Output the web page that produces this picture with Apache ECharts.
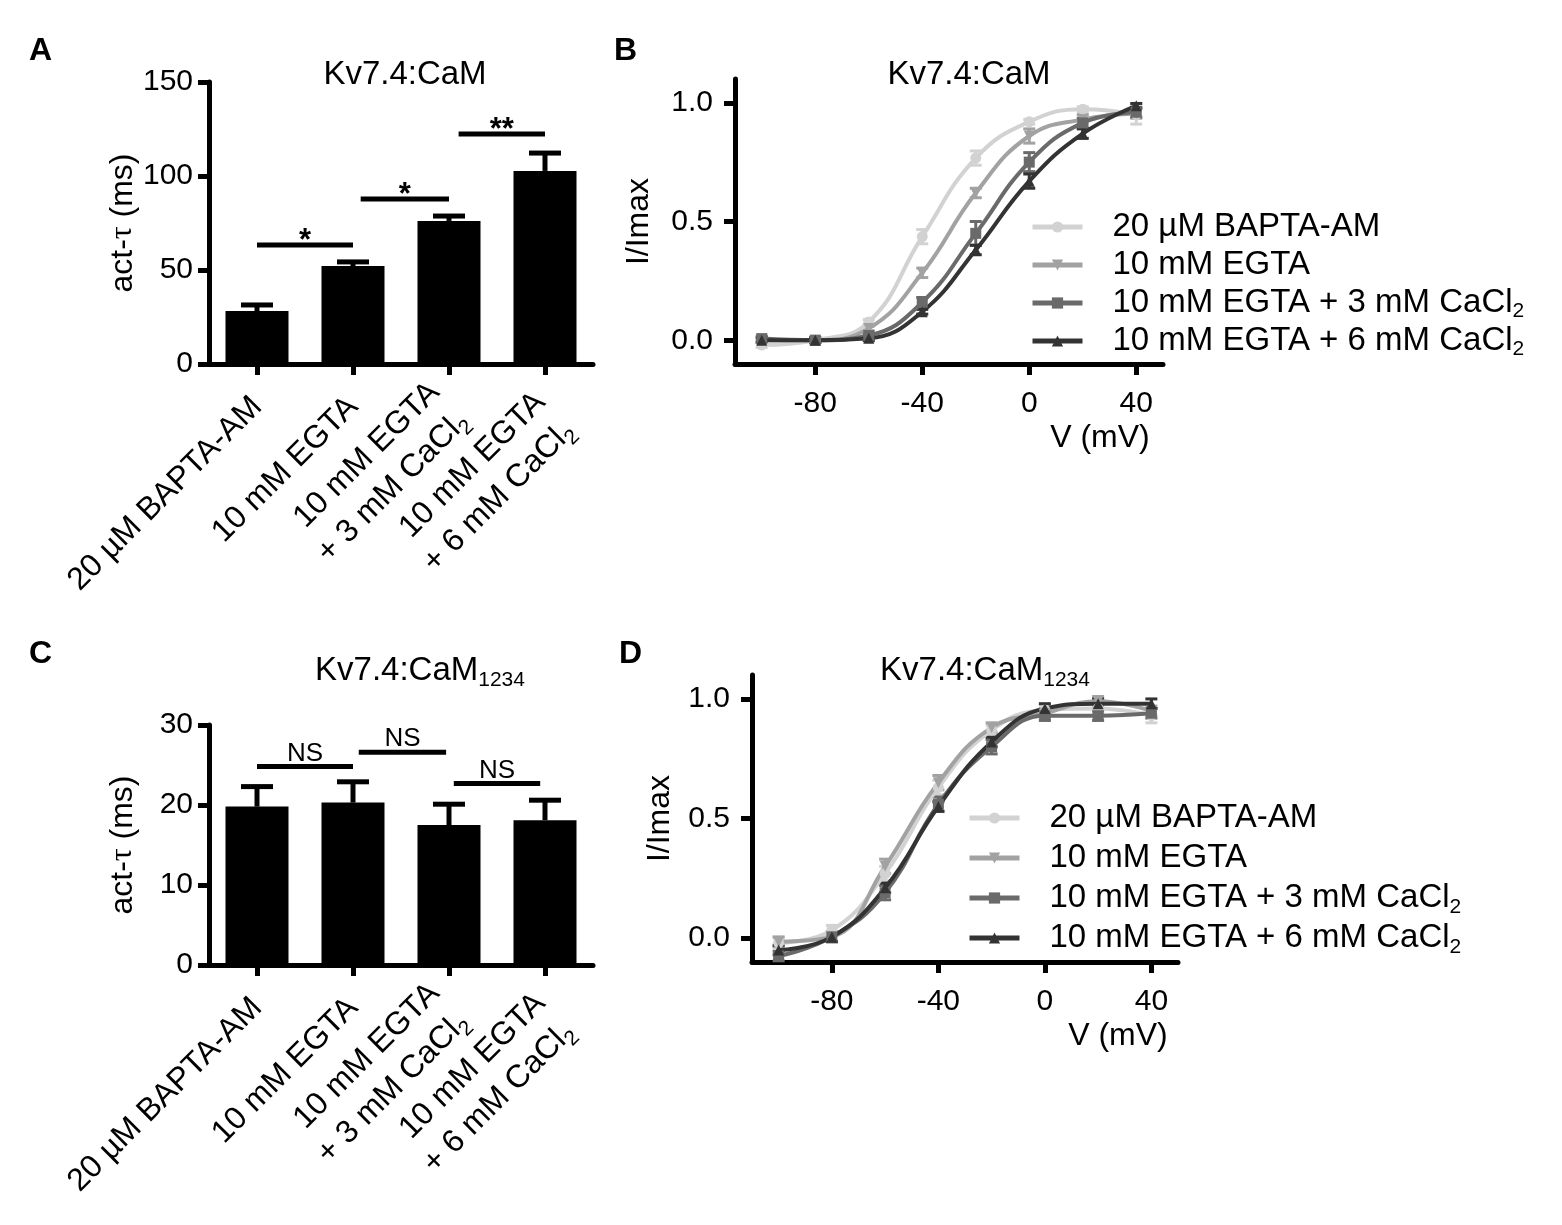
<!DOCTYPE html>
<html lang="en">
<head>
<meta charset="UTF-8">
<title>Kv7.4 activation</title>
<script src="https://cdn.jsdelivr.net/npm/echarts@6.0.0/dist/echarts.min.js"></script>
<style>
  html, body { margin: 0; padding: 0; background: #fff; }
  #main { width: 1562px; height: 1225px; }
</style>
</head>
<body>
<div id="main"></div>
<script>
// bar panels (A, C)
var groups = ['20 µM BAPTA-AM', '10 mM EGTA', '10 mM EGTA\n+ 3 mM CaCl2', '10 mM EGTA\n+ 6 mM CaCl2'];
var tauCaM = [28.2, 52.1, 76.1, 102.7];
var tauCaMErr = [3.2, 2.2, 2.6, 9.5];
var tauCaM1234 = [19.8, 20.3, 17.5, 18.1];
var tauCaM1234Err = [2.5, 2.6, 2.6, 2.5];
// significance bars: [from, to, y]
var sigCaM = [[0, 1, 63.3], [1.08, 2, 87.8], [2.1, 3, 122.3]];
var sigCaMText = ['*', '*', '**'];
var sigCaM1234 = [[0, 1, 24.8], [1.06, 1.97, 26.6], [2.05, 2.95, 22.7]];
var sigCaM1234Text = ['NS', 'NS', 'NS'];

// G-V panels (B, D)
var volts = [-100, -80, -60, -40, -20, 0, 20, 40];
var names = ['20 µM BAPTA-AM', '10 mM EGTA', '10 mM EGTA + 3 mM CaCl2', '10 mM EGTA + 6 mM CaCl2'];
var colors = ['#d2d2d2', '#a2a2a2', '#6a6a6a', '#333333'];
var symbols = ['circle', 'triangle', 'rect', 'triangle'];
var symbolRot = [0, 180, 0, 0];

var gvCaM = [
  [-0.02, 0.0, 0.077, 0.436, 0.767, 0.92, 0.973, 0.95],
  [0.0, 0.0, 0.05, 0.284, 0.62, 0.86, 0.93, 0.955],
  [0.007, 0.0, 0.02, 0.16, 0.45, 0.75, 0.915, 0.96],
  [0.0, 0.0, 0.008, 0.12, 0.38, 0.67, 0.87, 0.987]
];
var gvCaMErr = [
  [0.01, 0.01, 0.01, 0.03, 0.03, 0.01, 0.01, 0.04],
  [0.01, 0.01, 0.01, 0.02, 0.02, 0.03, 0.02, 0.02],
  [0.01, 0.01, 0.01, 0.02, 0.05, 0.04, 0.02, 0.02],
  [0.01, 0.01, 0.01, 0.01, 0.02, 0.03, 0.02, 0.01]
];
var gvCaM1234 = [
  [-0.02, 0.033, 0.27, 0.63, 0.87, 0.954, 0.96, 0.93],
  [-0.015, 0.005, 0.3, 0.65, 0.88, 0.94, 0.99, 0.95],
  [-0.075, 0.005, 0.19, 0.56, 0.80, 0.93, 0.93, 0.94],
  [-0.05, 0.005, 0.21, 0.55, 0.82, 0.96, 0.98, 0.98]
];
var gvCaM1234Err = [
  [0.02, 0.02, 0.03, 0.03, 0.02, 0.02, 0.02, 0.03],
  [0.02, 0.02, 0.03, 0.03, 0.02, 0.02, 0.02, 0.02],
  [0.02, 0.02, 0.03, 0.03, 0.03, 0.02, 0.02, 0.02],
  [0.02, 0.02, 0.02, 0.02, 0.02, 0.02, 0.02, 0.02]
];

var FONT = 'Liberation Sans, Arial, sans-serif';
var sub = { fontSize: 21, fontFamily: FONT, verticalAlign: 'bottom', lineHeight: 20, color: '#000' };
var catSub = { fontSize: 21, fontFamily: FONT, verticalAlign: 'bottom', lineHeight: 18, color: '#000' };

function withSub(s) {
  return s.replace('CaCl2', 'CaCl{sub|2}');
}

function barErr(xi, yi, vals, errs) {
  return {
    type: 'custom', xAxisIndex: xi, yAxisIndex: yi, z: 5,
    data: vals.map(function (v, i) { return [i, v, errs[i]]; }),
    renderItem: function (params, api) {
      var p0 = api.coord([api.value(0), api.value(1)]);
      var p1 = api.coord([api.value(0), api.value(1) + api.value(2)]);
      return {
        type: 'group',
        children: [
          { type: 'line', shape: { x1: p0[0], y1: p0[1], x2: p1[0], y2: p1[1] }, style: { stroke: '#000', lineWidth: 5 } },
          { type: 'line', shape: { x1: p1[0] - 16, y1: p1[1], x2: p1[0] + 16, y2: p1[1] }, style: { stroke: '#000', lineWidth: 5 } }
        ]
      };
    }
  };
}

function sigBars(xi, yi, rows, texts) {
  return {
    type: 'custom', xAxisIndex: xi, yAxisIndex: yi, z: 5,
    data: rows,
    renderItem: function (params, api) {
      var band = api.size([1, 0])[0];
      function px(v) {
        var f = Math.floor(v);
        return api.coord([f, 0])[0] + (v - f) * band;
      }
      var x1 = px(api.value(0)), x2 = px(api.value(1));
      var y = api.coord([0, api.value(2)])[1];
      var t = texts[params.dataIndex];
      var star = t.indexOf('*') >= 0;
      return {
        type: 'group',
        children: [
          { type: 'line', shape: { x1: x1, y1: y, x2: x2, y2: y }, style: { stroke: '#000', lineWidth: 5 } },
          {
            type: 'text',
            style: {
              text: t, x: (x1 + x2) / 2, y: star ? y + 12 : y,
              fill: '#000', align: 'center', verticalAlign: 'bottom',
              font: star ? 'bold 31px ' + FONT : '26px ' + FONT
            }
          }
        ]
      };
    }
  };
}

function lineErr(xi, yi, ys, errs, color) {
  return {
    type: 'custom', xAxisIndex: xi, yAxisIndex: yi, z: 3, silent: true,
    data: ys.map(function (v, i) { return [volts[i], v, errs[i]]; }),
    renderItem: function (params, api) {
      var x = api.value(0), v = api.value(1), e = api.value(2);
      var lo = api.coord([x, v - e]), hi = api.coord([x, v + e]);
      var st = { stroke: color, lineWidth: 3 };
      return {
        type: 'group',
        children: [
          { type: 'line', shape: { x1: lo[0], y1: lo[1], x2: hi[0], y2: hi[1] }, style: st },
          { type: 'line', shape: { x1: lo[0] - 6, y1: lo[1], x2: lo[0] + 6, y2: lo[1] }, style: st },
          { type: 'line', shape: { x1: hi[0] - 6, y1: hi[1], x2: hi[0] + 6, y2: hi[1] }, style: st }
        ]
      };
    }
  };
}

function gvLines(xi, yi, sets) {
  return sets.map(function (ys, k) {
    return {
      type: 'line', name: names[k], xAxisIndex: xi, yAxisIndex: yi, z: 4,
      data: ys.map(function (v, i) { return [volts[i], v]; }),
      smooth: 0.45,
      symbol: symbols[k], symbolRotate: symbolRot[k], symbolSize: 11,
      itemStyle: { color: colors[k] },
      lineStyle: { color: colors[k], width: 4 }
    };
  });
}

var axisLine = { show: true, onZero: false, lineStyle: { color: '#000', width: 5 } };
var labelStyle = { color: '#000', fontSize: 30, fontFamily: FONT };
var nameStyle = { color: '#000', fontSize: 32, fontFamily: FONT };

function catAxis(gi) {
  // last label sits a little lower in the original, which keeps the two-line labels apart
  var items = groups.map(function (g, i) {
    return i === 3 ? { value: g, textStyle: { padding: [28, 0, 0, 0] } } : g;
  });
  return {
    type: 'category', gridIndex: gi, data: items,
    axisLine: axisLine,
    axisTick: { show: true, alignWithLabel: true, length: 11, lineStyle: { color: '#000', width: 5 } },
    axisLabel: {
      interval: 0, rotate: 45, margin: 38, color: '#000', fontSize: 32, fontFamily: FONT,
      lineHeight: 41, align: 'right',
      formatter: withSub, rich: { sub: catSub }
    }
  };
}

function tauAxis(gi, max, step) {
  return {
    type: 'value', gridIndex: gi, min: 0, max: max, interval: step,
    axisLine: axisLine,
    axisTick: { show: true, length: 11, lineStyle: { color: '#000', width: 5 } },
    splitLine: { show: false },
    axisLabel: Object.assign({ margin: 16 }, labelStyle),
    name: 'act-{t|τ} (ms)', nameLocation: 'middle', nameGap: 70,
    nameTextStyle: Object.assign({ rich: { t: { fontSize: 32, fontFamily: 'Liberation Serif, serif', color: '#000' } } }, nameStyle)
  };
}

function voltAxis(gi, shift) {
  return {
    type: 'value', gridIndex: gi, min: -110, max: 50,
    axisLine: axisLine,
    axisTick: { show: true, length: 11, lineStyle: { color: '#000', width: 5 }, customValues: [-80, -40, 0, 40] },
    axisLabel: Object.assign({ margin: 25, customValues: [-80, -40, 0, 40] }, labelStyle),
    splitLine: { show: false },
    name: 'V (mV)', nameLocation: 'middle', nameGap: 58,
    nameTextStyle: Object.assign({ padding: [0, 0, 0, shift] }, nameStyle)
  };
}

function gAxis(gi, gap) {
  return {
    type: 'value', gridIndex: gi, min: -0.1, max: 1.1,
    axisLine: axisLine,
    axisTick: { show: true, length: 11, lineStyle: { color: '#000', width: 5 }, customValues: [0, 0.5, 1] },
    axisLabel: Object.assign({ margin: 22, customValues: [0, 0.5, 1], formatter: function (v) { return v.toFixed(1); } }, labelStyle),
    splitLine: { show: false },
    name: 'I/Imax', nameLocation: 'middle', nameGap: gap,
    nameTextStyle: nameStyle
  };
}

function legendAt(left, top, lh) {
  return {
    orient: 'vertical', left: left, top: top, itemGap: 0, padding: 0,
    itemWidth: 50, itemHeight: 14, selectedMode: false,
    lineStyle: { width: 5 },
    data: names,
    formatter: withSub,
    textStyle: { color: '#000', fontSize: 33, fontFamily: FONT, lineHeight: lh, padding: [0, 0, 0, 25], rich: { sub: sub } }
  };
}

var titleStyle = { color: '#000', fontSize: 33, fontWeight: 'normal', fontFamily: FONT, lineHeight: 40, rich: { sub: sub } };
var letterStyle = { color: '#000', fontSize: 32, fontWeight: 'bold', fontFamily: FONT };

var chart = echarts.init(document.getElementById('main'));
chart.setOption({
  backgroundColor: '#fff',
  animation: false,
  title: [
    { text: 'A', left: 24, top: 30, textStyle: letterStyle },
    { text: 'B', left: 609, top: 30, textStyle: letterStyle },
    { text: 'C', left: 24, top: 633, textStyle: letterStyle },
    { text: 'D', left: 614, top: 633, textStyle: letterStyle },
    { text: 'Kv7.4:CaM', left: 400, textAlign: 'center', top: 50, textStyle: titleStyle },
    { text: 'Kv7.4:CaM', left: 964, textAlign: 'center', top: 50, textStyle: titleStyle },
    { text: 'Kv7.4:CaM{sub|1234}', left: 415, textAlign: 'center', top: 646, textStyle: titleStyle },
    { text: 'Kv7.4:CaM{sub|1234}', left: 980, textAlign: 'center', top: 646, textStyle: titleStyle }
  ],
  legend: [legendAt(1030, 208, 38), legendAt(967, 798, 40)],
  grid: [
    { left: 209, top: 82, width: 384, height: 282 },
    { left: 735, top: 79, width: 428, height: 285 },
    { left: 209, top: 725, width: 384, height: 240 },
    { left: 752, top: 675, width: 426, height: 287 }
  ],
  xAxis: [catAxis(0), voltAxis(1, 302), catAxis(2), voltAxis(3, 306)],
  yAxis: [tauAxis(0, 150, 50), gAxis(1, 80), tauAxis(2, 30, 10), gAxis(3, 76)],
  series: [
    { type: 'bar', xAxisIndex: 0, yAxisIndex: 0, data: tauCaM, barWidth: 63, itemStyle: { color: '#000' } },
    barErr(0, 0, tauCaM, tauCaMErr),
    sigBars(0, 0, sigCaM, sigCaMText),
    { type: 'bar', xAxisIndex: 2, yAxisIndex: 2, data: tauCaM1234, barWidth: 63, itemStyle: { color: '#000' } },
    barErr(2, 2, tauCaM1234, tauCaM1234Err),
    sigBars(2, 2, sigCaM1234, sigCaM1234Text)
  ].concat(
    gvLines(1, 1, gvCaM),
    gvCaM.map(function (ys, k) { return lineErr(1, 1, ys, gvCaMErr[k], colors[k]); }),
    gvLines(3, 3, gvCaM1234),
    gvCaM1234.map(function (ys, k) { return lineErr(3, 3, ys, gvCaM1234Err[k], colors[k]); })
  )
});
</script>
</body>
</html>
